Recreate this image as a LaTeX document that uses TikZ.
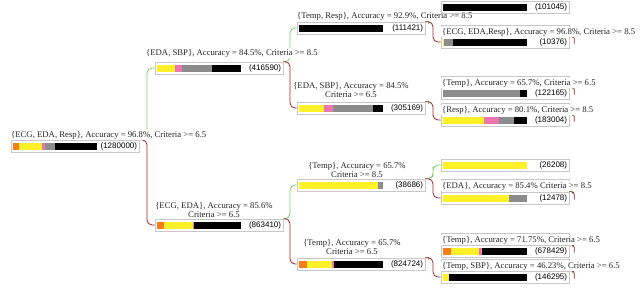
\documentclass[tikz,border=0pt]{standalone}
\usepackage{fontspec}
\setmainfont{Liberation Serif}
\newfontfamily\cntfont{Liberation Sans}
\usetikzlibrary{calc, backgrounds}

\definecolor{cOrange}{RGB}{245,125,30}
\definecolor{cYellow}{RGB}{255,240,40}
\definecolor{cPink}{RGB}{238,118,175}
\definecolor{cGray}{RGB}{140,140,140}
\definecolor{cBlack}{RGB}{0,0,0}
\definecolor{cYes}{RGB}{115,210,95}
\definecolor{cNo}{RGB}{160,35,50}
\definecolor{cFrame}{RGB}{200,200,200}

\begin{document}
\begin{tikzpicture}[
    x=1pt, y=-1pt,
    font=\fontsize{8.7}{9.5}\selectfont,
    treebox/.style={
        rectangle, draw=cFrame, line width=0.6pt,
        minimum width=128pt, minimum height=12pt, inner sep=0pt
    },
    rulelabel/.style={anchor=west, inner sep=1pt, fill=white, text=black!85},
    splitlabel/.style={align=center, inner sep=1pt, fill=white, text=black!85},
    samplecount/.style={anchor=east, inner sep=0pt, font=\cntfont\fontsize{8}{9}\selectfont},
    leafframe/.style={draw=cFrame, line width=0.6pt},
    yeslink/.style={draw=cYes, line width=0.8pt, rounded corners=5pt},
    nolink/.style={draw=cNo, line width=0.8pt, rounded corners=5pt},
    yestick/.style={draw=cYes, line width=0.8pt}
]
\useasboundingbox (0,0) rectangle (640,292);

% -------------------------
% 1. Root
% -------------------------
\node[treebox] (T) at (75,146) {};
\node[samplecount] (Tn) at ($(T.east)+(-2,0)$) {(1280000)};
\fill[cOrange] ($(T.west)+(2,-3.5)$) rectangle +(5.8,7);
\fill[cYellow] ($(T.west)+(7.8,-3.5)$) rectangle +(23.4,7);
\fill[cPink] ($(T.west)+(31.2,-3.5)$) rectangle +(3.3,7);
\fill[cGray] ($(T.west)+(34.5,-3.5)$) rectangle +(10,7);
\fill[cBlack] ($(T.west)+(44.5,-3.5)$) rectangle +(41.5,7);
\node[rulelabel] (Tl) at (10,135) {\{ECG, EDA, Resp\}, Accuracy = 96.8\%, Criteria >= 6.5};

% -------------------------
% 2. Upper branch
% -------------------------
\node[treebox] (T1) at (219,68) {};
\node[samplecount] (T1n) at ($(T1.east)+(-2,0)$) {(416590)};
\fill[cYellow] ($(T1.west)+(2,-3.5)$) rectangle +(18.3,7);
\fill[cPink] ($(T1.west)+(20.3,-3.5)$) rectangle +(6.7,7);
\fill[cGray] ($(T1.west)+(27,-3.5)$) rectangle +(30,7);
\fill[cBlack] ($(T1.west)+(57,-3.5)$) rectangle +(29,7);
\node[rulelabel] (T1l) at (145,53) {\{EDA, SBP\}, Accuracy = 84.5\%, Criteria >= 8.5};

\node[treebox] (T11) at (361,28) {};
\node[samplecount] (T11n) at ($(T11.east)+(-2,0)$) {(111421)};
\fill[cBlack] ($(T11.west)+(2,-3.5)$) rectangle +(84,7);
\node[rulelabel] (T11l) at (296,16) {\{Temp, Resp\}, Accuracy = 92.9\%, Criteria >= 8.5};

\node[treebox] (T111) at (505,7) {};
\node[samplecount] (T111n) at ($(T111.east)+(-2,0)$) {(101045)};
\fill[cBlack] ($(T111.west)+(2,-3.5)$) rectangle +(84,7);

\node[treebox] (T112) at (505,42) {};
\node[samplecount] (T112n) at ($(T112.east)+(-2,0)$) {(10376)};
\fill[cYellow] ($(T112.west)+(2,-3.5)$) rectangle +(1,7);
\fill[cGray] ($(T112.west)+(3,-3.5)$) rectangle +(9,7);
\fill[cBlack] ($(T112.west)+(12,-3.5)$) rectangle +(74,7);
\node[rulelabel] (T112l) at (441,32) {\{ECG, EDA,Resp\}, Accuracy = 96.8\%, Criteria >= 8.5};

\node[treebox] (T12) at (361,108) {};
\node[samplecount] (T12n) at ($(T12.east)+(-2,0)$) {(305169)};
\fill[cYellow] ($(T12.west)+(2,-3.5)$) rectangle +(25,7);
\fill[cPink] ($(T12.west)+(27,-3.5)$) rectangle +(9,7);
\fill[cGray] ($(T12.west)+(36,-3.5)$) rectangle +(40,7);
\fill[cBlack] ($(T12.west)+(76,-3.5)$) rectangle +(10,7);
\node[splitlabel] (T12l) at (351,90) {\{EDA, SBP\}, Accuracy = 84.5\%\\Criteria >= 6.5};

\node[treebox] (T121) at (505,93) {};
\node[samplecount] (T121n) at ($(T121.east)+(-2,0)$) {(122165)};
\fill[cGray] ($(T121.west)+(2,-3.5)$) rectangle +(77,7);
\fill[cBlack] ($(T121.west)+(79,-3.5)$) rectangle +(7,7);
\node[rulelabel] (T121l) at (441,83) {\{Temp\}, Accuracy = 65.7\%, Criteria >= 6.5};

\node[treebox] (T122) at (505,120) {};
\node[samplecount] (T122n) at ($(T122.east)+(-2,0)$) {(183004)};
\fill[cYellow] ($(T122.west)+(2,-3.5)$) rectangle +(41.5,7);
\fill[cPink] ($(T122.west)+(43.5,-3.5)$) rectangle +(15,7);
\fill[cGray] ($(T122.west)+(58.5,-3.5)$) rectangle +(15,7);
\fill[cBlack] ($(T122.west)+(73.5,-3.5)$) rectangle +(12.5,7);
\node[rulelabel] (T122l) at (441,110) {\{Resp\}, Accuracy = 80.1\%, Criteria >= 8.5};

% -------------------------
% 3. Lower branch
% -------------------------
\node[treebox] (T2) at (219,225) {};
\node[samplecount] (T2n) at ($(T2.east)+(-2,0)$) {(863410)};
\fill[cOrange] ($(T2.west)+(2,-3.5)$) rectangle +(7,7);
\fill[cYellow] ($(T2.west)+(9,-3.5)$) rectangle +(29,7);
\fill[cPink] ($(T2.west)+(38,-3.5)$) rectangle +(1,7);
\fill[cBlack] ($(T2.west)+(39,-3.5)$) rectangle +(47,7);
\node[splitlabel] (T2l) at (214,210) {\{ECG, EDA\}, Accuracy = 85.6\%\\Criteria >= 6.5};

\node[treebox] (T21) at (361,185) {};
\node[samplecount] (T21n) at ($(T21.east)+(-2,0)$) {(38686)};
\fill[cYellow] ($(T21.west)+(2,-3.5)$) rectangle +(79,7);
\fill[cGray] ($(T21.west)+(81,-3.5)$) rectangle +(5,7);
\node[splitlabel] (T21l) at (357,170) {\{Temp\}, Accuracy = 65.7\%\\Criteria >= 8.5};

\node[treebox] (T211) at (505,165) {};
\node[samplecount] (T211n) at ($(T211.east)+(-2,0)$) {(26208)};
\fill[cYellow] ($(T211.west)+(2,-3.5)$) rectangle +(84,7);

\node[treebox] (T212) at (505,198) {};
\node[samplecount] (T212n) at ($(T212.east)+(-2,0)$) {(12478)};
\fill[cYellow] ($(T212.west)+(2,-3.5)$) rectangle +(66.5,7);
\fill[cGray] ($(T212.west)+(68.5,-3.5)$) rectangle +(17.5,7);
\node[rulelabel] (T212l) at (441,186) {\{EDA\}, Accuracy = 85.4\% Criteria >= 8.5};

\node[treebox] (T22) at (361,264) {};
\node[samplecount] (T22n) at ($(T22.east)+(-2,0)$) {(824724)};
\fill[cOrange] ($(T22.west)+(2,-3.5)$) rectangle +(8.4,7);
\fill[cYellow] ($(T22.west)+(10.4,-3.5)$) rectangle +(25,7);
\fill[cPink] ($(T22.west)+(35.4,-3.5)$) rectangle +(1.6,7);
\fill[cBlack] ($(T22.west)+(37,-3.5)$) rectangle +(49,7);
\node[splitlabel] (T22l) at (352,247) {\{Temp\}, Accuracy = 65.7\%\\Criteria >= 6.5};

\node[treebox] (T221) at (505,251) {};
\node[samplecount] (T221n) at ($(T221.east)+(-2,0)$) {(678429)};
\fill[cOrange] ($(T221.west)+(2,-3.5)$) rectangle +(8.4,7);
\fill[cYellow] ($(T221.west)+(10.4,-3.5)$) rectangle +(28.3,7);
\fill[cPink] ($(T221.west)+(38.7,-3.5)$) rectangle +(2.7,7);
\fill[cBlack] ($(T221.west)+(41.4,-3.5)$) rectangle +(44.6,7);
\node[rulelabel] (T221l) at (441,240) {\{Temp\}, Accuracy = 71.75\%, Criteria >= 6.5};

\node[treebox] (T222) at (505,277) {};
\node[samplecount] (T222n) at ($(T222.east)+(-2,0)$) {(146295)};
\fill[cYellow] ($(T222.west)+(2,-3.5)$) rectangle +(6.7,7);
\fill[cBlack] ($(T222.west)+(8.7,-3.5)$) rectangle +(77.3,7);
\node[rulelabel] (T222l) at (441,266) {\{Temp, SBP\}, Accuracy = 46.23\%, Criteria >= 6.5};

% -------------------------
% FRAMES AND LINKS (behind the labels)
% -------------------------
\begin{scope}[on background layer]
% leaf frames round label and bar
\draw[leafframe] ($(T112l.north west)+(0,-1.5)$) rectangle (T112.south east);
\draw[leafframe] ($(T121l.north west)+(0,-1.5)$) rectangle (T121.south east);
\draw[leafframe] ($(T122l.north west)+(0,-1.5)$) rectangle (T122.south east);
\draw[leafframe] ($(T212l.north west)+(0,-1.5)$) rectangle (T212.south east);
\draw[leafframe] ($(T221l.north west)+(0,-1.5)$) rectangle (T221.south east);
\draw[leafframe] ($(T222l.north west)+(0,-1.5)$) rectangle (T222.south east);

% criteria met -> upper child
\draw[yeslink] (T.north east) -| ($(T.north east)!0.5!(T1.west)$) |- (T1.west);
\draw[yeslink] (T1.north east) -| ($(T1.north east)!0.5!(T11.west)$) |- (T11.west);
\draw[yeslink] (T2.north east) -| ($(T2.north east)!0.5!(T21.west)$) |- (T21.west);
\draw[yeslink] (T21.north east) -| ($(T21.north east)!0.5!(T211.west)$) |- (T211.west);
\draw[yestick] (T11.north east) -- ++(3,0) -- ++(0,2);
\draw[yestick] (T12.north east) -- ++(3,0) -- ++(0,2);
\draw[yestick] (T22.north east) -- ++(3,0) -- ++(0,2);

% criteria not met -> lower child
\draw[nolink] (T.north east) -| ($(T.north east)!0.5!(T2.west)$) |- (T2.west);
\draw[nolink] (T1.north east) -| ($(T1.north east)!0.5!(T12.west)$) |- (T12.west);
\draw[nolink] (T11.north east) -| ($(T11.north east)!0.5!(T112.west)$) |- (T112.west);
\draw[nolink] (T12.north east) -| ($(T12.north east)!0.5!(T122.west)$) |- (T122.west);
\draw[nolink] (T2.north east) -| ($(T2.north east)!0.5!(T22.west)$) |- (T22.west);
\draw[nolink] (T21.north east) -| ($(T21.north east)!0.5!(T212.west)$) |- (T212.west);
\draw[nolink] (T22.north east) -| ($(T22.north east)!0.5!(T222.west)$) |- (T222.west);

% leaf stubs
\draw[yestick] (T112.north east) -- ++(3,0) -- ++(0,2); \draw[nolink, rounded corners=3pt] (T112.north east) -| ++(5,8);
\draw[yestick] (T121.north east) -- ++(3,0) -- ++(0,2); \draw[nolink, rounded corners=3pt] (T121.north east) -| ++(5,8);
\draw[yestick] (T122.north east) -- ++(3,0) -- ++(0,2); \draw[nolink, rounded corners=3pt] (T122.north east) -| ++(5,8);
\draw[yestick] (T212.north east) -- ++(3,0) -- ++(0,2); \draw[nolink, rounded corners=3pt] (T212.north east) -| ++(5,8);
\draw[yestick] (T221.north east) -- ++(3,0) -- ++(0,2); \draw[nolink, rounded corners=3pt] (T221.north east) -| ++(5,8);
\draw[yestick] (T222.north east) -- ++(3,0) -- ++(0,2); \draw[nolink, rounded corners=3pt] (T222.north east) -| ++(5,8);
\end{scope}

\end{tikzpicture}
\end{document}
